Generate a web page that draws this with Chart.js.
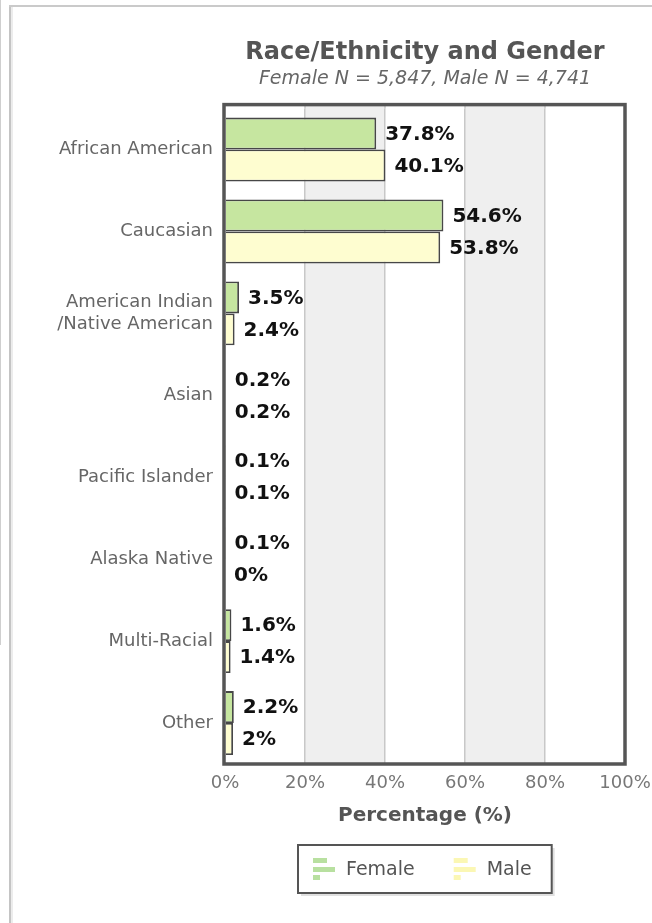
<!DOCTYPE html>
<html>
<head>
<meta charset="utf-8">
<script src="https://cdn.jsdelivr.net/npm/chart.js@4/dist/chart.umd.min.js"></script>
<style>
  html, body { margin: 0; padding: 0; background: #fff; }
  #wrap { position: relative; width: 652px; height: 923px; overflow: hidden; }
  #c { position: absolute; left: 0; top: 0; }
  .deco { position: absolute; }
</style>
</head>
<body>
<div id="wrap">
  <canvas id="c" width="652" height="923"></canvas>
  <div class="deco" style="left:0;top:0;width:1px;height:645px;background:#cfcfcf"></div>
  <div class="deco" style="left:9px;top:5px;width:2px;height:918px;background:#c4c4c4"></div>
  <div class="deco" style="left:11px;top:7px;width:2px;height:916px;background:#ececec"></div>
  <div class="deco" style="left:9px;top:5px;width:643px;height:2px;background:#cacaca"></div>
</div>
<script>
const categories = ["African American", "Caucasian", ["American Indian", "/Native American"], "Asian", "Pacific Islander", "Alaska Native", "Multi-Racial", "Other"];
const femaleValues = [37.8, 54.6, 3.5, 0.2, 0.1, 0.1, 1.6, 2.2];
const maleValues = [40.1, 53.8, 2.4, 0.2, 0.1, 0, 1.4, 2.0];
const xTicks = [0, 20, 40, 60, 80, 100];
const seriesNames = ["Female", "Male"];
const seriesColors = ["#c6e6a0", "#fefdd0"];
const legendIconColors = ["#b8e0a0", "#fbf7b4"];

const FONT = "'DejaVu Sans', Verdana, sans-serif";
const FRAME_EXTRA_TOP = 4;

const bandsPlugin = {
  id: 'bands',
  beforeDraw(chart) {
    const {ctx, chartArea: a, scales: {x}} = chart;
    ctx.save();
    ctx.fillStyle = '#efefef';
    for (let i = 0; i < xTicks.length - 1; i++) {
      if (i % 2 === 1) {
        const l = x.getPixelForValue(xTicks[i]);
        const r = x.getPixelForValue(xTicks[i + 1]);
        ctx.fillRect(l, a.top - FRAME_EXTRA_TOP, r - l, a.bottom - a.top + FRAME_EXTRA_TOP);
      }
    }
    ctx.strokeStyle = '#c8c8c8';
    ctx.lineWidth = 1.5;
    for (let i = 1; i < xTicks.length - 1; i++) {
      const p = x.getPixelForValue(xTicks[i]);
      ctx.beginPath();
      ctx.moveTo(p, a.top - FRAME_EXTRA_TOP);
      ctx.lineTo(p, a.top);
      ctx.stroke();
    }
    ctx.restore();
  }
};

const frameAndLabelsPlugin = {
  id: 'frameLabels',
  afterDatasetsDraw(chart) {
    const {ctx, chartArea: a} = chart;
    ctx.save();
    ctx.font = "bold 20px " + FONT;
    ctx.fillStyle = '#111';
    ctx.textBaseline = 'middle';
    ctx.textAlign = 'left';
    chart.data.datasets.forEach((ds, di) => {
      const meta = chart.getDatasetMeta(di);
      meta.data.forEach((el, i) => {
        ctx.fillText(ds.data[i] + '%', el.x + 9, el.y + 1);
      });
    });
    ctx.strokeStyle = '#555';
    ctx.lineWidth = 3.5;
    ctx.strokeRect(a.left - 1, a.top - FRAME_EXTRA_TOP, a.right - a.left + 1, a.bottom - a.top + FRAME_EXTRA_TOP);
    ctx.restore();
  },
  afterDraw(chart) {
    const {ctx, chartArea: a, scales: {x}} = chart;
    ctx.save();
    ctx.font = "19px " + FONT;
    const padL = 15, icon = 22, gap = 11, itemGap = 39, padR = 20;
    const w0 = ctx.measureText(seriesNames[0]).width;
    const w1 = ctx.measureText(seriesNames[1]).width;
    const boxW = padL + icon + gap + w0 + itemGap + icon + gap + w1 + padR;
    const boxH = 48;
    const cx = (a.left + a.right) / 2;
    const bx = Math.round(cx - boxW / 2);
    const by = x.bottom + 17;
    ctx.fillStyle = 'rgba(0,0,0,0.12)';
    ctx.fillRect(bx + 3, by + 3, boxW, boxH);
    ctx.fillStyle = '#fff';
    ctx.fillRect(bx, by, boxW, boxH);
    ctx.strokeStyle = '#555';
    ctx.lineWidth = 2;
    ctx.strokeRect(bx, by, boxW, boxH);
    let px = bx + padL;
    const cy = by + boxH / 2;
    [w0, w1].forEach((tw, i) => {
      ctx.fillStyle = legendIconColors[i];
      ctx.fillRect(px, cy - 11, 14, 5);
      ctx.fillRect(px, cy - 2, 22, 5);
      ctx.fillRect(px, cy + 6, 7, 5);
      ctx.fillStyle = '#555';
      ctx.textBaseline = 'middle';
      ctx.textAlign = 'left';
      ctx.fillText(seriesNames[i], px + icon + gap, cy + 1);
      px += icon + gap + tw + itemGap;
    });
    ctx.restore();
  }
};

new Chart(document.getElementById('c'), {
  type: 'bar',
  data: {
    labels: categories,
    datasets: [
      { label: seriesNames[0], data: femaleValues, backgroundColor: seriesColors[0], borderColor: '#474747', borderWidth: 1.8 },
      { label: seriesNames[1], data: maleValues, backgroundColor: seriesColors[1], borderColor: '#474747', borderWidth: 1.8 }
    ]
  },
  options: {
    indexAxis: 'y',
    responsive: false,
    animation: false,
    events: [],
    categoryPercentage: 0.78,
    barPercentage: 1.0,
    layout: { padding: { top: 38, right: 27, bottom: 95, left: 0 } },
    plugins: {
      legend: { display: false },
      tooltip: { enabled: false },
      title: {
        display: true, text: 'Race/Ethnicity and Gender', fullSize: false,
        color: '#555', font: { family: FONT, size: 24, weight: 'bold', lineHeight: 1.2 },
        padding: { top: 0, bottom: 0 }
      },
      subtitle: {
        display: true, text: 'Female N = 5,847, Male N = 4,741', fullSize: false,
        color: '#666', font: { family: FONT, size: 19, style: 'italic', lineHeight: 1.2 },
        padding: { top: 1, bottom: 18 }
      }
    },
    scales: {
      x: {
        min: 0, max: 100,
        afterBuildTicks(scale) { scale.ticks = xTicks.map(v => ({ value: v })); },
        afterFit(scale) { scale.height = 64; scale.paddingLeft = 0; scale.paddingRight = 0; },
        ticks: { color: '#777', font: { family: FONT, size: 18 }, padding: 9, callback: v => v + '%' },
        grid: {
          drawTicks: false, lineWidth: 1.5,
          color: ctx => (ctx.tick && (ctx.tick.value === 0 || ctx.tick.value === 100)) ? 'rgba(0,0,0,0)' : '#c8c8c8'
        },
        border: { display: false },
        title: { display: true, text: 'Percentage (%)', color: '#555', font: { family: FONT, size: 20, weight: 'bold', lineHeight: 1.2 }, padding: { top: 0, bottom: 0 } }
      },
      y: {
        afterFit(scale) { scale.width = 225; },
        ticks: { color: '#666', font: { family: FONT, size: 18, lineHeight: 1.25 }, padding: 12 },
        grid: { display: false, drawTicks: false },
        border: { display: false }
      }
    }
  },
  plugins: [bandsPlugin, frameAndLabelsPlugin]
});
</script>
</body>
</html>
